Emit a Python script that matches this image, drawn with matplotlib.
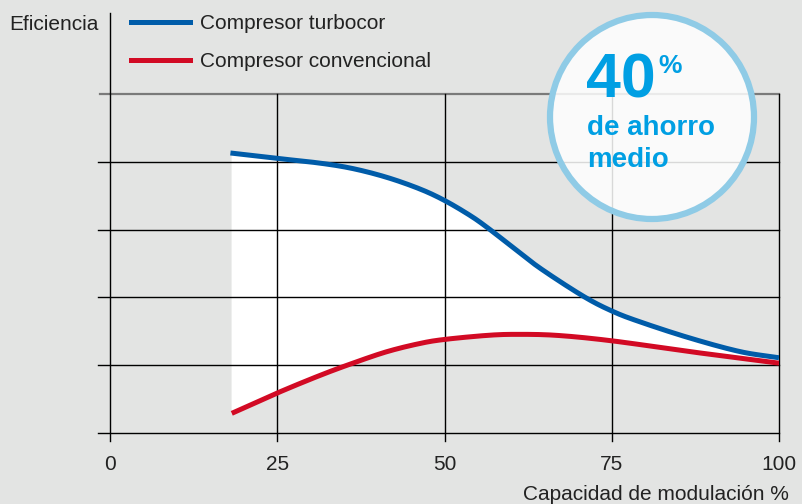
import matplotlib
matplotlib.use("Agg")
import matplotlib.pyplot as plt
from matplotlib.patches import Circle
from matplotlib.transforms import IdentityTransform
import numpy as np

plt.rcParams['font.family'] = ['Liberation Sans', 'DejaVu Sans']

# Data
x_turbo = [18.0, 25.0, 31.4, 36.3, 41.4, 46.3, 50.0, 53.8, 56.4, 60.2, 64.3, 70.7, 75.0, 79.2, 86.7, 94.2, 100]
y_turbo = [4.13, 4.05, 3.98, 3.90, 3.77, 3.60, 3.43, 3.21, 3.03, 2.74, 2.43, 2.02, 1.80, 1.64, 1.40, 1.20, 1.11]
x_conv = [18.2, 25.0, 31.4, 36.3, 41.4, 46.3, 50.0, 56.4, 60.8, 66.8, 75.0, 86.7, 100]
y_conv = [0.29, 0.59, 0.85, 1.03, 1.20, 1.32, 1.38, 1.44, 1.455, 1.44, 1.36, 1.20, 1.03]
x_ticks = [0, 25, 50, 75, 100]
x_ticklabels = ["0", "25", "50", "75", "100"]
y_grid = [1, 2, 3, 4]
series_labels = ["Compresor turbocor", "Compresor convencional"]

BG = "#e3e4e3"
BLUE = "#005ca9"
RED = "#d20a24"
CYAN = "#009fe3"
RING = "#8fcbe6"


def smooth(xs, ys, n=24):
    """Catmull-Rom rendering of the polyline through the read points."""
    p = np.column_stack([xs, ys]).astype(float)
    ext = np.vstack([2 * p[0] - p[1], p, 2 * p[-1] - p[-2]])
    out = []
    t = np.linspace(0, 1, n, endpoint=False)[:, None]
    for i in range(1, len(ext) - 2):
        p0, p1, p2, p3 = ext[i - 1], ext[i], ext[i + 1], ext[i + 2]
        b1 = p1 + (p2 - p0) / 6
        b2 = p2 - (p3 - p1) / 6
        seg = ((1 - t) ** 3) * p1 + 3 * ((1 - t) ** 2) * t * b1 + 3 * (1 - t) * t ** 2 * b2 + t ** 3 * p2
        out.append(seg)
    out.append(p[-1][None, :])
    c = np.vstack(out)
    return c[:, 0], c[:, 1]


W, H = 802, 504
fig = plt.figure(figsize=(W / 100, H / 100), dpi=100, facecolor=BG)
x0, x1, ytop, ybot = 110, 779, 94, 433
ax = fig.add_axes([x0 / W, (H - ybot) / H, (x1 - x0) / W, (ybot - ytop) / H])
ax.set_facecolor(BG)
ax.set_xlim(0, 100)
ax.set_ylim(0, 5)
for s in ax.spines.values():
    s.set_visible(False)

tx, ty = smooth(x_turbo, y_turbo)
cx_, cy_ = smooth(x_conv, y_conv)

# white fill between the curves (under the grid)
xf = np.linspace(18.1, 100, 600)
ax.fill_between(xf, np.interp(xf, cx_, cy_), np.interp(xf, tx, ty), color="white", lw=0, zorder=1)

# grid
for yv in y_grid:
    ax.plot([-1.8, 100], [yv, yv], color="black", lw=1.0, zorder=2, clip_on=False)
ax.plot([-1.8, 100], [0, 0], color="black", lw=1.0, zorder=2, clip_on=False)
ax.plot([-1.5, 100], [5, 5], color="#7a7a7a", lw=1.6, zorder=2, clip_on=False)
for xv in [25, 50, 75, 100]:
    ax.plot([xv, xv], [-0.12, 5], color="black", lw=1.0, zorder=2, clip_on=False)
ax.plot([0, 0], [-0.12, 6.2], color="black", lw=1.0, zorder=2, clip_on=False)

# curves
ax.plot(tx, ty, color=BLUE, lw=3.6, zorder=3, solid_capstyle="butt", solid_joinstyle="round")
ax.plot(cx_, cy_, color=RED, lw=3.6, zorder=3, solid_capstyle="butt", solid_joinstyle="round")

# ticks
ax.set_xticks(x_ticks)
ax.set_xticklabels(x_ticklabels, fontsize=15, color="#222222")
ax.tick_params(axis="x", length=0, pad=16)
ax.set_yticks([])

fig.text(789 / W, 1 - 494 / H, "Capacidad de modulación %",
         ha="right", va="center", fontsize=15, color="#222222")
fig.text(99 / W, 1 - 24 / H, "Eficiencia", ha="right", va="center", fontsize=15, color="#222222")

# legend
for i, (lab, col) in enumerate(zip(series_labels, [BLUE, RED])):
    yy = 1 - (22 + 38 * i) / H
    fig.add_artist(plt.Line2D([131 / W, 190 / W], [yy, yy], color=col, lw=3.6))
    fig.text(200 / W, yy - 0.002, lab, ha="left", va="center", fontsize=15, color="#222222")

# circle badge
ccx, ccy, r = 652, H - 117, 102
circ = Circle((ccx, ccy), r, transform=IdentityTransform(), facecolor="white", alpha=0.85,
              edgecolor="none", zorder=5)
fig.add_artist(circ)
ring = Circle((ccx, ccy), r, transform=IdentityTransform(), facecolor="none",
              edgecolor=RING, lw=4.5, zorder=6)
fig.add_artist(ring)
fig.text(586 / W, 1 - 98 / H, "40", ha="left", va="baseline", fontsize=45,
         fontweight="bold", color=CYAN, zorder=7)
fig.text(658 / W, 1 - 73 / H, "%", ha="left", va="baseline", fontsize=19,
         fontweight="bold", color=CYAN, zorder=7)
fig.text(587 / W, 1 - 135 / H, "de ahorro", ha="left", va="baseline", fontsize=20,
         fontweight="bold", color=CYAN, zorder=7)
fig.text(587 / W, 1 - 167 / H, "medio", ha="left", va="baseline", fontsize=20,
         fontweight="bold", color=CYAN, zorder=7)

fig.savefig("out.png", dpi=100, facecolor=BG)
